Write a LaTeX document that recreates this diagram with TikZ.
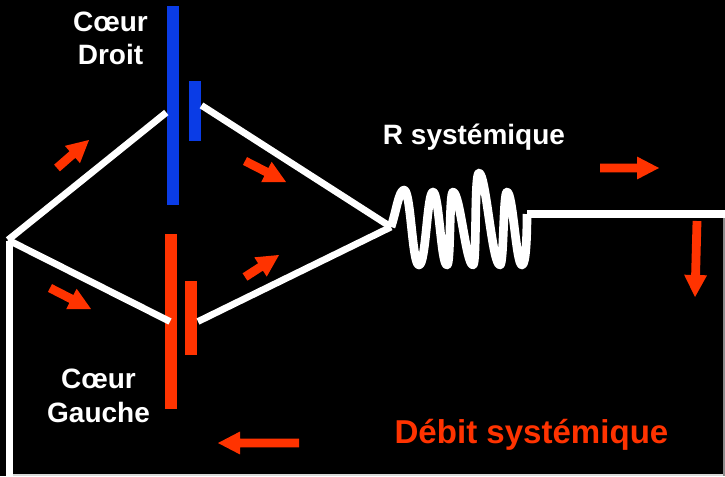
\documentclass[tikz,border=0pt]{standalone}
\usepackage{fontspec}
\setmainfont{Liberation Sans}
\usetikzlibrary{calc}
\definecolor{bluebar}{RGB}{10,60,230}
\definecolor{redbar}{RGB}{255,51,0}
\tikzset{
  x=0.75pt,y=-0.75pt,
  wire/.style={draw=white,line width=5.1pt},
  wall/.style={draw=white,line width=5.5pt},
  coil/.style={draw=white,line width=6.5pt,line join=round},
  flow/.style={draw=none,fill=redbar},
  lbl/.style={text=white,font=\bfseries\fontsize{21}{25}\selectfont,align=center,inner sep=0pt},
}
\newcommand{\flowarrow}[2]{% tail, tip
  \path let \p1=(#1),\p2=(#2),\n1={atan2(\y2-\y1,\x2-\x1)},\n2={veclen(\x2-\x1,\y2-\y1)} in
    [flow,shift={(\p1)},rotate=\n1] (0pt,-3.3pt) -- (\n2-16.5pt,-3.3pt) -- (\n2-16.5pt,-8.6pt) -- (\n2,0pt) -- (\n2-16.5pt,8.6pt) -- (\n2-16.5pt,3.3pt) -- (0pt,3.3pt) -- cycle;
}
\begin{document}
\begin{tikzpicture}
\useasboundingbox (0,0) rectangle (725,476);
\fill[black] (0,0) rectangle (725,476);
% bars
\fill[bluebar] (167,6) rectangle (179,205);
\fill[bluebar] (189,81) rectangle (201,141);
\fill[redbar] (165,234) rectangle (177,409);
\fill[redbar] (185,281) rectangle (197,355);
% wires
\coordinate (J) at (8,240);
\coordinate (RA) at (166.3,112.5);
\coordinate (RB) at (201.5,105.4);
\coordinate (S) at (391,227);
\coordinate (LA) at (170,321.5);
\coordinate (LB) at (198,321.5);
\coordinate (Rend) at (527,214);
\coordinate (E) at (725,214);
\coordinate (WT) at (9.5,241);
\coordinate (WB) at (9.5,476);
\draw[wire] (J) -- (RA);
\draw[wire] (RB) -- (S);
\draw[wire] (J) -- (LA);
\draw[wire] (LB) -- (S);
\draw[wall] (E) -- (Rend);
\draw[wall] (WT) -- (WB);
\fill[black!15] (13,474) rectangle (725,476);
\fill[black!45] (723,218) rectangle (725,476);
\draw[coil] (S) .. controls (396,212) and (399,190) .. (404,190)
  .. controls (411,190) and (412,265) .. (419,265)
  .. controls (426,265) and (427,192) .. (433,192)
  .. controls (439,192) and (441,265) .. (447,265)
  .. controls (451,265) and (449,192) .. (453,192)
  .. controls (460,192) and (466,265) .. (473,265)
  .. controls (477,265) and (474,173) .. (479,173)
  .. controls (486,173) and (492,265) .. (500,265)
  .. controls (504,265) and (503,192) .. (507,192)
  .. controls (513,192) and (516,265) .. (522,265)
  .. controls (526,265) and (527,235) .. (Rend);
% flow arrows
\coordinate (a1) at (57,168); \coordinate (a1t) at (89,140);
\coordinate (a2) at (245,161); \coordinate (a2t) at (286,182);
\coordinate (a3) at (50,288); \coordinate (a3t) at (91,309);
\coordinate (a4) at (245,277); \coordinate (a4t) at (279,255);
\coordinate (a5) at (600,168); \coordinate (a5t) at (659,168);
\coordinate (a6) at (697,221); \coordinate (a6t) at (695,297);
\coordinate (a7) at (299,443); \coordinate (a7t) at (218,443);
\flowarrow{a1}{a1t}
\flowarrow{a2}{a2t}
\flowarrow{a3}{a3t}
\flowarrow{a4}{a4t}
\flowarrow{a5}{a5t}
\flowarrow{a6}{a6t}
\flowarrow{a7}{a7t}
% labels
\node[lbl] (cd) at (110.5,38.5) {Cœur\\Droit};
\node[lbl] (cg) at (98.5,396) {Cœur\\Gauche};
\node[lbl] (rs) at (474,137) {R systémique};
\node[lbl,text=redbar,font=\bfseries\fontsize{24.8}{28}\selectfont] (ds) at (531.5,435) {Débit systémique};
\end{tikzpicture}
\end{document}
